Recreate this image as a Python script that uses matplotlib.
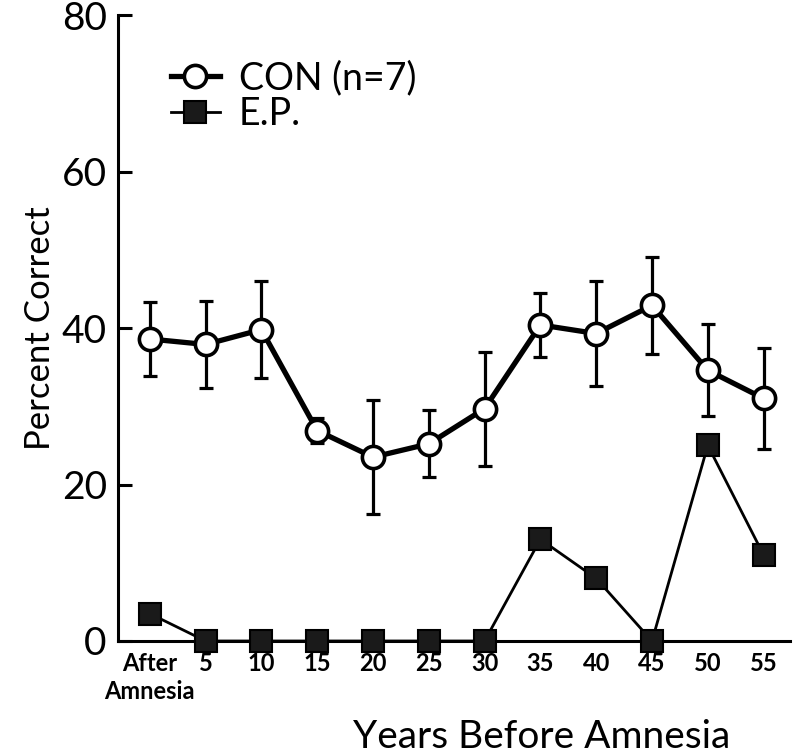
import matplotlib.pyplot as plt
import numpy as np

plt.rcParams['font.family'] = ['Lato', 'DejaVu Sans']

# data
labels = ['After\nAmnesia', '5', '10', '15', '20', '25', '30', '35', '40', '45', '50', '55']
con_mean = [38.6, 37.9, 39.8, 26.9, 23.5, 25.2, 29.7, 40.4, 39.3, 42.9, 34.6, 31.0]
con_err = [4.7, 5.6, 6.2, 1.6, 7.3, 4.3, 7.3, 4.1, 6.7, 6.2, 5.9, 6.5]
ep = [3.5, 0, 0, 0, 0, 0, 0, 13, 8, 0, 25, 11]

x = np.arange(len(labels))

fig = plt.figure(figsize=(7.97, 7.55), dpi=100)
ax = fig.add_axes([0.148, 0.151, 0.843, 0.829])

# controls with error bars
ax.errorbar(x, con_mean, yerr=con_err, fmt='none', ecolor='black',
            elinewidth=2.3, capsize=5, capthick=2.3, zorder=2)
ax.plot(x, con_mean, color='black', lw=3.8, marker='o', ms=16,
        mfc='white', mec='black', mew=2.6, zorder=3, label='CON (n=7)')

# patient
ax.plot(x, ep, color='black', lw=2.0, marker='s', ms=16,
        mfc='#1a1a1a', mec='black', mew=1.5, zorder=4, label='E.P.',
        clip_on=False)

ax.set_xlim(-0.57, 11.47)
ax.set_ylim(0, 80)
ax.set_yticks([0, 20, 40, 60, 80])
ax.set_xticks(x)
ax.set_xticklabels(labels, fontsize=17, fontweight='bold', linespacing=1.25)

ax.spines['top'].set_visible(False)
ax.spines['right'].set_visible(False)
ax.spines['left'].set_linewidth(2.2)
ax.spines['bottom'].set_linewidth(2.2)
ax.tick_params(axis='y', direction='in', length=10, width=2.2, labelsize=28, pad=8)
ax.tick_params(axis='x', length=0, pad=8)

ax.set_ylabel('Percent Correct', fontsize=25, labelpad=4)
ax.set_xlabel('Years Before Amnesia', fontsize=28)
ax.xaxis.set_label_coords(0.63, -0.125)

ax.legend(loc='upper left', bbox_to_anchor=(0.04, 0.97), frameon=False,
          fontsize=27, handlelength=1.3, handletextpad=0.5,
          labelspacing=0.0, borderpad=0.2)

fig.savefig('out.png', dpi=100)
